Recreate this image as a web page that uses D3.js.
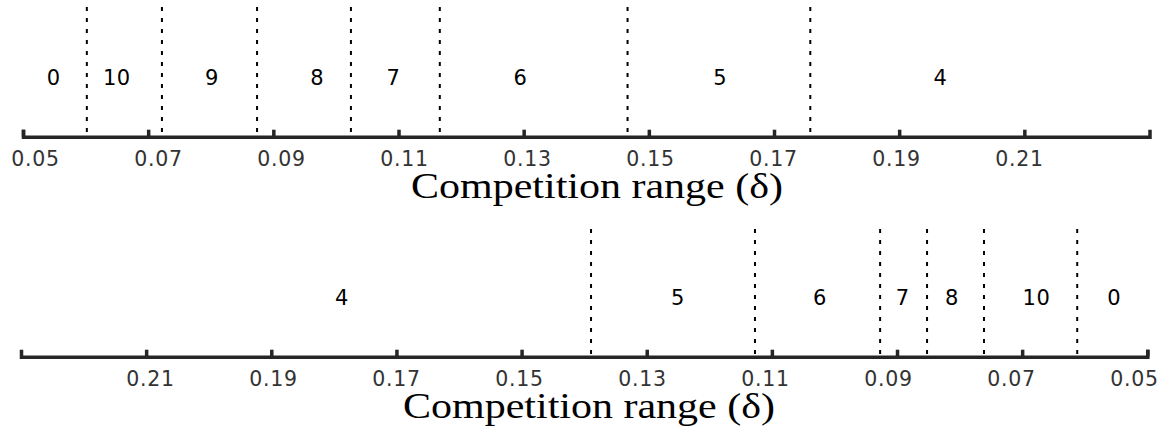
<!DOCTYPE html>
<html>
<head>
<meta charset="utf-8">
<script src="https://cdn.jsdelivr.net/npm/d3@7"></script>
<style>
  html, body { margin: 0; padding: 0; background: #fff; }
  svg { display: block; }
</style>
</head>
<body>
<svg id="chart" width="1166" height="428"></svg>
<script>
// ---- data ----
const tickValues = [0.05, 0.07, 0.09, 0.11, 0.13, 0.15, 0.17, 0.19, 0.21];
const tickLabels = ["0.05", "0.07", "0.09", "0.11", "0.13", "0.15", "0.17", "0.19", "0.21"];
const domainMin = 0.05, domainMax = 0.23;

// top panel (increasing delta)
const topBoundaries = [0.0602, 0.0722, 0.0874, 0.1024, 0.1166, 0.1466, 0.1758];
const topLabels = ["0", "10", "9", "8", "7", "6", "5", "4"];
const topLabelPos = [0.0549, 0.0650, 0.0802, 0.0970, 0.1092, 0.1295, 0.1614, 0.1966];

// bottom panel (decreasing delta)
const bottomBoundaries = [0.1389, 0.1127, 0.0927, 0.0852, 0.0761, 0.0612];
const bottomLabels = ["4", "5", "6", "7", "8", "10", "0"];
const bottomLabelPos = [0.1787, 0.1250, 0.1023, 0.0891, 0.0812, 0.0677, 0.0553];

const axisTitle = "Competition range (\u03B4)";

// ---- drawing ----
const svg = d3.select("#chart");

function panel(cfg) {
  const x = d3.scaleLinear().domain(cfg.domain).range(cfg.range);
  // tick labels in the source sit on a slightly compressed scale
  const xl = d3.scaleLinear().domain([0.05, 0.21]).range(cfg.labelRange);
  const g = svg.append("g");

  // dotted separators
  g.selectAll("line.sep").data(cfg.boundaries).join("line")
    .attr("class", "sep")
    .attr("x1", d => x(d)).attr("x2", d => x(d))
    .attr("y1", cfg.sepTop).attr("y2", cfg.axisY)
    .attr("stroke", "#000")
    .attr("stroke-width", 2)
    .attr("stroke-dasharray", "4,7");

  // region labels
  g.selectAll("text.reg").data(cfg.labels).join("text")
    .attr("class", "reg")
    .attr("x", (d, i) => x(cfg.labelPos[i]))
    .attr("y", cfg.labelY)
    .attr("text-anchor", "middle")
    .attr("font-family", "DejaVu Sans")
    .attr("font-size", 21)
    .attr("letter-spacing", 0.6)
    .attr("fill", "#000")
    .text(d => d);

  // axis
  const axis = d3.axisBottom(x)
    .tickValues(tickValues)
    .tickFormat((d, i) => tickLabels[i])
    .tickSizeInner(-7)
    .tickSizeOuter(-7)
    .tickPadding(15);
  const ag = g.append("g")
    .attr("transform", `translate(0,${cfg.axisY})`)
    .call(axis);
  ag.select(".domain")
    .attr("stroke", "#262626")
    .attr("stroke-width", 3.5)
    .attr("fill", "none");
  ag.selectAll(".tick line")
    .attr("stroke", "#262626")
    .attr("stroke-width", 3.5);
  ag.selectAll(".tick text")
    .attr("x", d => xl(d) - x(d))
    .attr("font-family", "DejaVu Sans")
    .attr("font-size", 20.5)
    .attr("letter-spacing", 0.7)
    .attr("fill", "#333");

  // axis title
  g.append("text")
    .attr("x", cfg.titleX)
    .attr("y", cfg.titleY)
    .attr("text-anchor", "middle")
    .attr("font-family", "Liberation Serif")
    .attr("font-size", 36)
    .attr("textLength", 372)
    .attr("lengthAdjust", "spacingAndGlyphs")
    .attr("fill", "#000")
    .text(axisTitle);
}

panel({
  domain: [domainMin, domainMax], range: [23, 1149.5], labelRange: [35, 1019],
  boundaries: topBoundaries, labels: topLabels, labelPos: topLabelPos,
  axisY: 136.7, sepTop: 7, labelY: 85, titleX: 597, titleY: 198
});

panel({
  domain: [domainMax, domainMin], range: [21, 1147.3], labelRange: [1134, 150],
  boundaries: bottomBoundaries, labels: bottomLabels, labelPos: bottomLabelPos,
  axisY: 356.7, sepTop: 229, labelY: 305, titleX: 589, titleY: 418
});
</script>
</body>
</html>
